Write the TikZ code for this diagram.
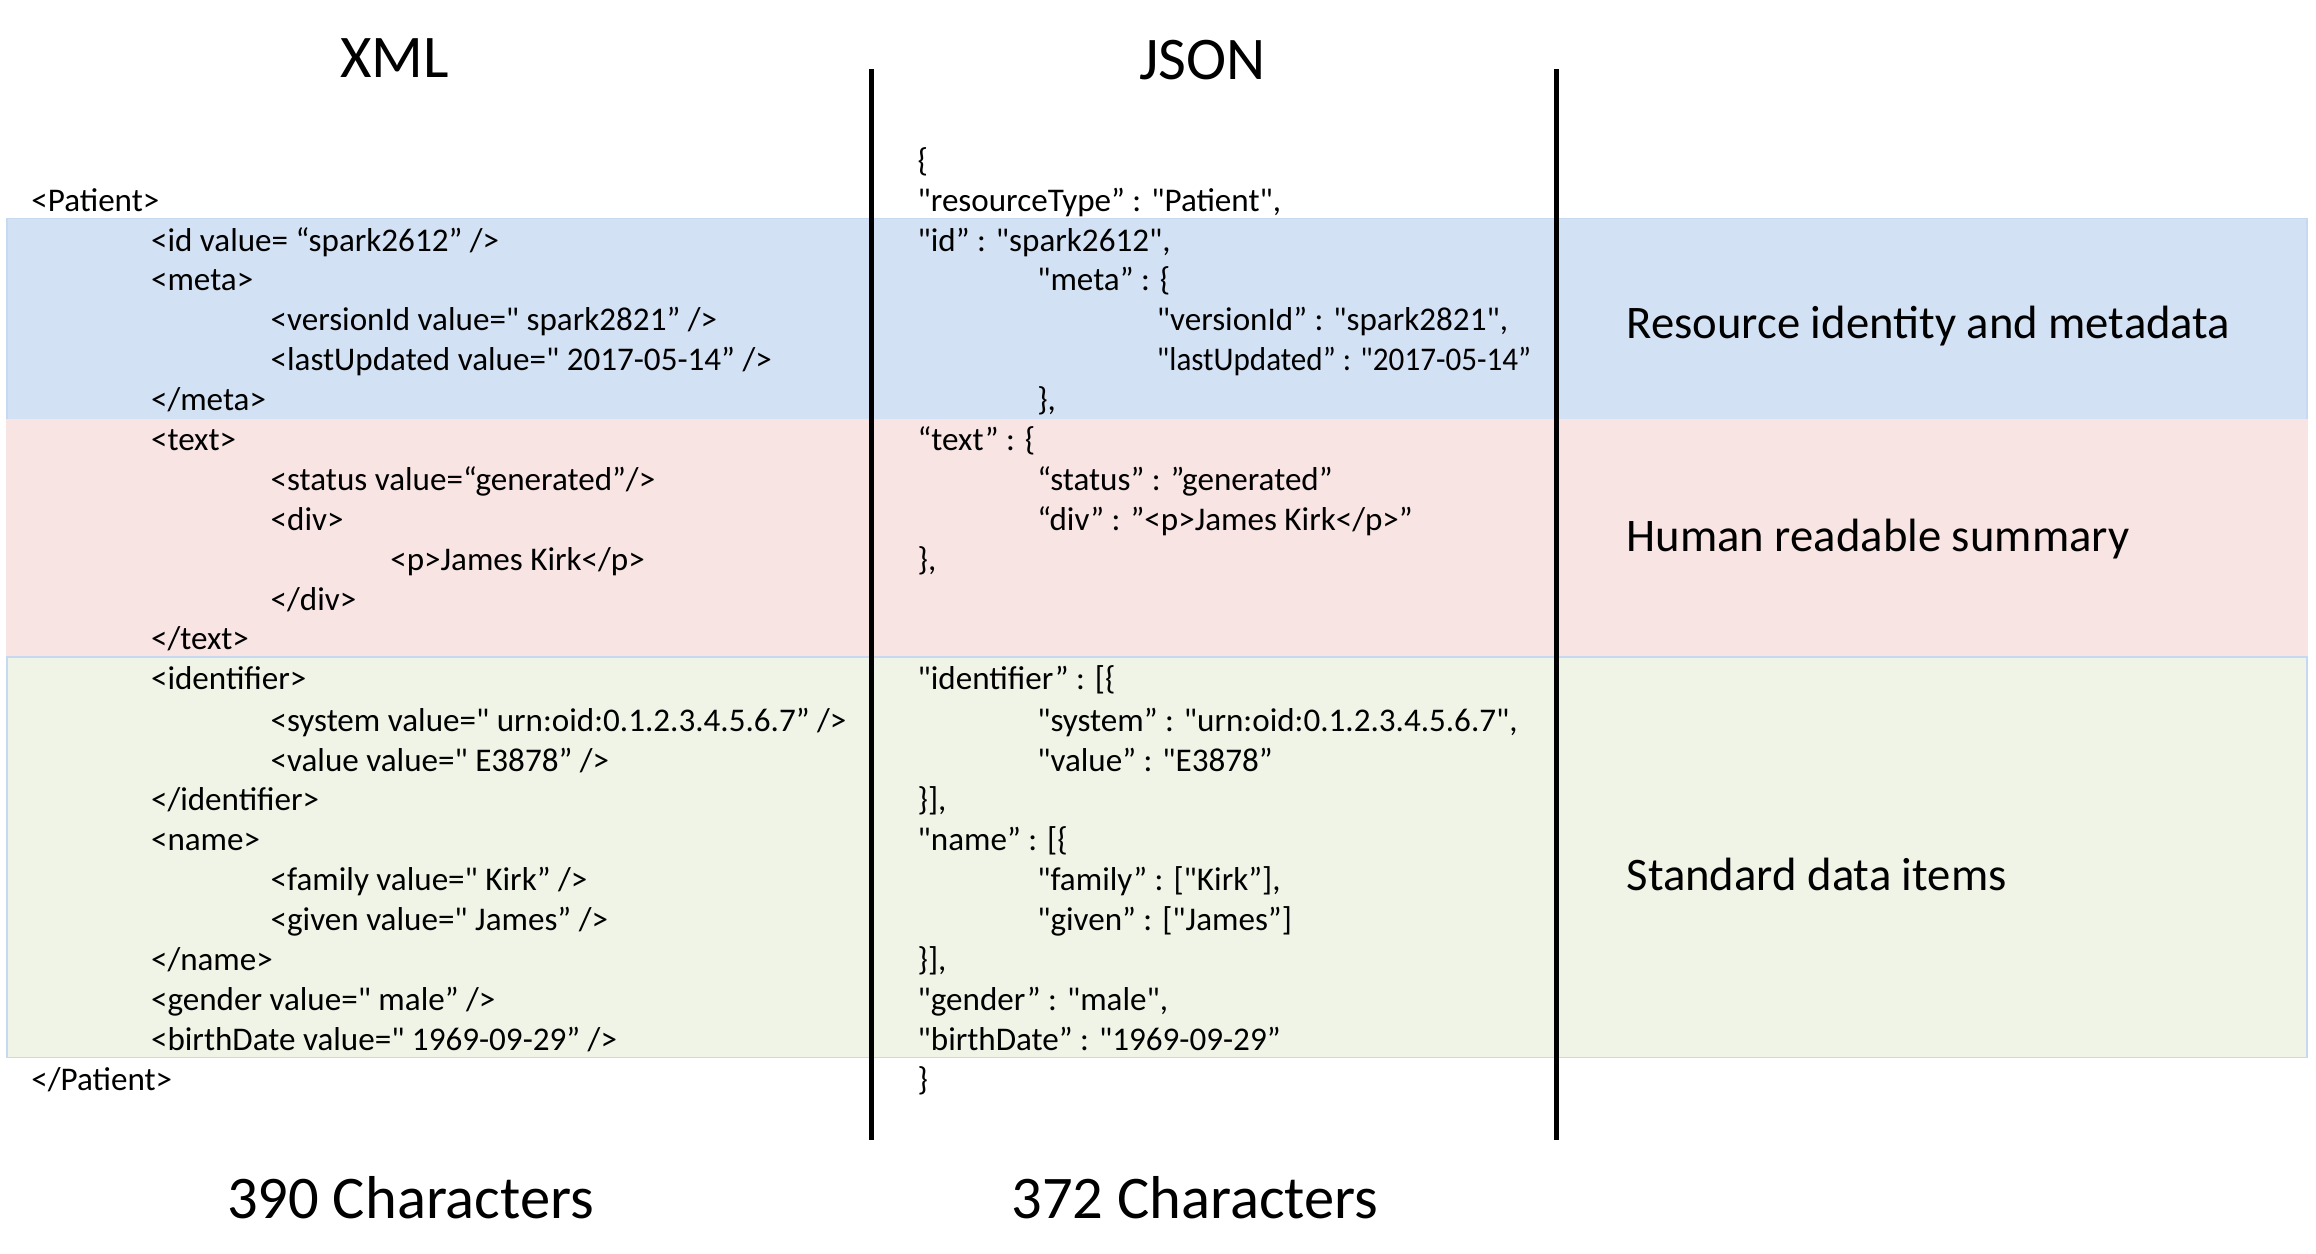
\documentclass[tikz,border=0pt]{standalone}
\usepackage{fontspec}
\setmainfont{Carlito}[Ligatures=TeXOff]
\usepackage{graphicx}
\usepackage{tikz}
\tikzset{every picture/.style={line width=0.75pt}}
\definecolor{bandBlue}{RGB}{210,225,243}
\definecolor{bandPink}{RGB}{247,228,227}
\definecolor{bandGreen}{RGB}{240,244,230}
\definecolor{bandEdge}{RGB}{198,217,240}
\tikzset{
  code/.style={anchor=west, inner sep=0.75pt, font=\fontsize{11.2}{13}\selectfont, text height=9pt, text depth=1pt},
  heading/.style={anchor=center, inner sep=0.75pt, font=\fontsize{20.5}{24}\selectfont},
  caption/.style={anchor=west, inner sep=0.75pt, font=\fontsize{15.8}{18}\selectfont},
  band/.style={draw=bandEdge, line width=0.6pt},
  divider/.style={line width=1.6pt}
}

\begin{document}
\begin{tikzpicture}[x=0.5pt,y=0.5pt,yscale=-1,xscale=1]
\useasboundingbox (0,0) rectangle (1568,849);

%Shape: Rectangle
\draw [band, fill=bandBlue] (5,148) rectangle (1562,284) ;
%Shape: Rectangle
\draw [band, draw=bandPink, fill=bandPink] (5,284) rectangle (1562,444) ;
%Shape: Rectangle
\draw [band, fill=bandGreen] (5,445) rectangle (1562,716) ;

%Straight Lines
\coordinate (sepAtop) at (590,47) ;
\coordinate (sepAbot) at (590,772) ;
\coordinate (sepBtop) at (1054,47) ;
\coordinate (sepBbot) at (1054,772) ;
\draw [divider] (sepAtop) -- (sepAbot) ;
\draw [divider] (sepBtop) -- (sepBbot) ;

% Text Node
\node [heading] (xmlTitle) at (267,39) {XML};
% Text Node
\node [heading] (jsonTitle) at (814,41) {JSON};

% Text Node
\node [code] (xmlPatient) at (19,135) {<Patient>};
\node [code] (xmlId) at (100,162) {<id value= “spark2612” />};
\node [code] (xmlMeta) at (100,189) {<meta>};
\node [code] (xmlVersion) at (181,216) {<versionId value=" spark2821” />};
\node [code] (xmlUpdated) at (181,243) {<lastUpdated value=" 2017-05-14” />};
\node [code] (xmlMetaEnd) at (100,270) {</meta>};
\node [code] (xmlText) at (100,297) {<text>};
\node [code] (xmlStatus) at (181,324) {<status value=“generated”/>};
\node [code] (xmlDiv) at (181,351) {<div>};
\node [code] (xmlPara) at (262,378) {<p>James Kirk</p>};
\node [code] (xmlDivEnd) at (181,405) {</div>};
\node [code] (xmlTextEnd) at (100,432) {</text>};
\node [code] (xmlIdent) at (100,459) {<identifier>};
\node [code] (xmlSystem) at (181,487) {<system value=" urn:oid:0.1.2.3.4.5.6.7” />};
\node [code] (xmlValue) at (181,514) {<value value=" E3878” />};
\node [code] (xmlIdentEnd) at (100,541) {</identifier>};
\node [code] (xmlName) at (100,568) {<name>};
\node [code] (xmlFamily) at (181,595) {<family value=" Kirk” />};
\node [code] (xmlGiven) at (181,622) {<given value=" James” />};
\node [code] (xmlNameEnd) at (100,649) {</name>};
\node [code] (xmlGender) at (100,676) {<gender value=" male” />};
\node [code] (xmlBirth) at (100,703) {<birthDate value=" 1969-09-29” />};
\node [code] (xmlPatientEnd) at (19,730) {</Patient>};

% Text Node
\node [code] (jsonOpen) at (619,108) {\{};
\node [code] (jsonType) at (619,135) {"resourceType” : "Patient",};
\node [code] (jsonId) at (619,162) {"id” : "spark2612",};
\node [code] (jsonMeta) at (700,189) {"meta” : \{};
\node [code] (jsonVersion) at (781,216) {"versionId” : "spark2821",};
\node [code] (jsonUpdated) at (781,243) {\scalebox{0.94}[1]{"lastUpdated” : "2017-05-14”}};
\node [code] (jsonMetaEnd) at (700,270) {\},};
\node [code] (jsonText) at (619,297) {“text” : \{};
\node [code] (jsonStatus) at (700,324) {“status” : ”generated”};
\node [code] (jsonDiv) at (700,351) {“div” : ”<p>James Kirk</p>”};
\node [code] (jsonTextEnd) at (619,378) {\},};
\node [code] (jsonIdent) at (619,459) {"identifier” : [\{};
\node [code] (jsonSystem) at (700,487) {"system” : "urn:oid:0.1.2.3.4.5.6.7",};
\node [code] (jsonValue) at (700,514) {"value” : "E3878”};
\node [code] (jsonIdentEnd) at (619,541) {\}],};
\node [code] (jsonName) at (619,568) {"name” : [\{};
\node [code] (jsonFamily) at (700,595) {"family” : ["Kirk”],};
\node [code] (jsonGiven) at (700,622) {"given” : ["James”]};
\node [code] (jsonNameEnd) at (619,649) {\}],};
\node [code] (jsonGender) at (619,676) {"gender” : "male",};
\node [code] (jsonBirth) at (619,703) {"birthDate” : "1969-09-29”};
\node [code] (jsonClose) at (619,730) {\}};

% Text Node
\node [caption] (labIdentity) at (1099,221) {Resource identity and metadata};
% Text Node
\node [caption] (labSummary) at (1099,365) {Human readable summary};
% Text Node
\node [caption] (labData) at (1099,592) {Standard data items};

% Text Node
\node [heading] (xmlCount) at (278,811) {390 Characters};
% Text Node
\node [heading] (jsonCount) at (809,811) {372 Characters};

\end{tikzpicture}
\end{document}
